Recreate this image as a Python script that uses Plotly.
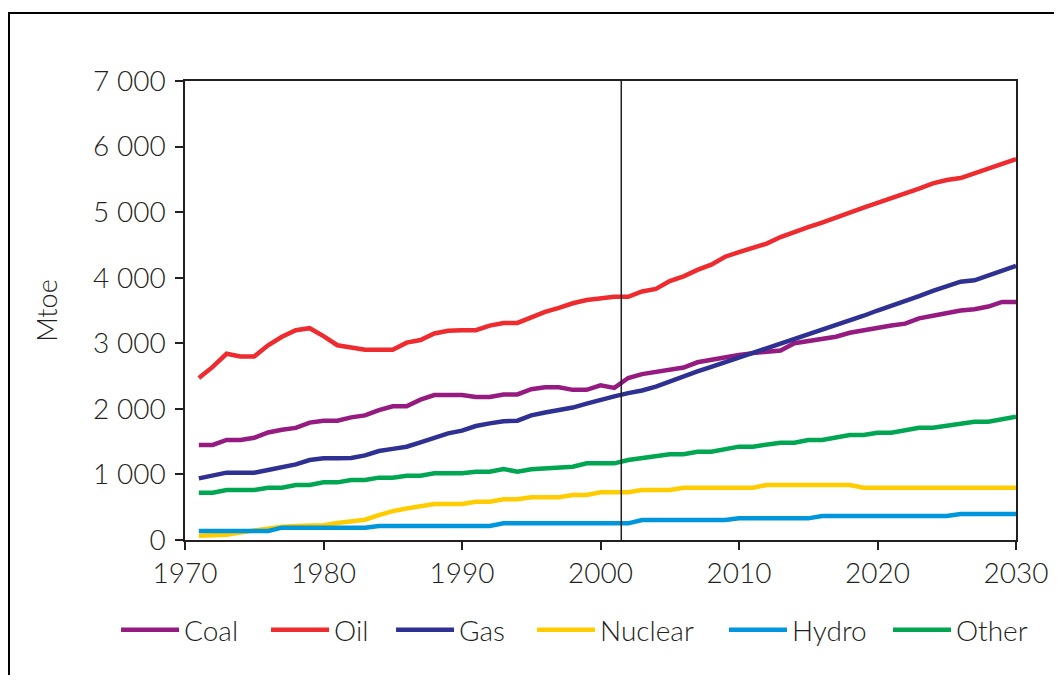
import plotly.graph_objects as go

years = list(range(1971, 2031))

coal = [1450, 1450, 1525, 1525, 1560, 1640, 1680, 1710, 1790, 1820,
        1820, 1870, 1900, 1980, 2040, 2040, 2140, 2210, 2210, 2210,
        2180, 2180, 2220, 2220, 2300, 2330, 2330, 2290, 2290, 2360,
        2320, 2470, 2530, 2560, 2600, 2630, 2710, 2750, 2790, 2820,
        2850, 2870, 2890, 3000, 3030, 3060, 3100, 3160, 3200, 3230,
        3270, 3300, 3380, 3420, 3460, 3500, 3520, 3560, 3630, 3630]

oil = [2470, 2640, 2840, 2800, 2800, 2970, 3100, 3200, 3230, 3110,
       2970, 2930, 2900, 2900, 2900, 3010, 3050, 3150, 3190, 3200,
       3200, 3270, 3310, 3310, 3400, 3480, 3540, 3610, 3660, 3690,
       3710, 3710, 3790, 3830, 3950, 4020, 4120, 4200, 4320, 4390,
       4450, 4520, 4620, 4700, 4770, 4840, 4920, 5000, 5070, 5140,
       5210, 5290, 5360, 5440, 5490, 5520, 5590, 5670, 5740, 5810]

gas = [940, 980, 1027, 1027, 1027, 1068, 1110, 1154, 1220, 1246,
       1246, 1250, 1290, 1357, 1390, 1423, 1490, 1560, 1627, 1667,
       1738, 1779, 1810, 1820, 1900, 1945, 1980, 2020, 2080, 2140,
       2190, 2240, 2280, 2340, 2420, 2490, 2570, 2640, 2710, 2780,
       2850, 2920, 2990, 3070, 3140, 3210, 3280, 3350, 3420, 3500,
       3570, 3640, 3720, 3800, 3870, 3940, 3960, 4030, 4110, 4180]

nuclear = [66, 66, 80, 115, 150, 180, 203, 214, 214, 224,
           260, 290, 310, 380, 440, 480, 515, 549, 549, 549,
           584, 584, 620, 620, 651, 651, 651, 686, 686, 727,
           727, 727, 762, 762, 762, 798, 798, 798, 798, 798,
           798, 839, 839, 839, 839, 839, 839, 839, 798, 798,
           798, 798, 798, 798, 798, 798, 798, 798, 798, 798]

hydro = [137, 137, 137, 137, 137, 137, 188, 188, 188, 188,
         188, 188, 188, 214, 214, 214, 214, 214, 214, 214,
         214, 214, 254, 254, 254, 254, 254, 254, 254, 254,
         254, 254, 305, 305, 305, 305, 305, 305, 305, 330,
         330, 330, 330, 330, 330, 366, 366, 366, 366, 366,
         366, 366, 366, 366, 366, 397, 397, 397, 397, 397]

other = [720, 720, 762, 762, 762, 798, 798, 839, 839, 879,
         879, 915, 915, 951, 951, 981, 981, 1017, 1017, 1017,
         1042, 1042, 1083, 1042, 1078, 1090, 1118, 1118, 1169, 1169,
         1169, 1220, 1250, 1280, 1307, 1307, 1347, 1347, 1390, 1424,
         1424, 1460, 1484, 1484, 1525, 1525, 1560, 1601, 1601, 1637,
         1637, 1680, 1713, 1713, 1740, 1770, 1804, 1804, 1840, 1880]

series_names = ["Coal", "Oil", "Gas", "Nuclear", "Hydro", "Other"]
series_values = [coal, oil, gas, nuclear, hydro, other]
series_colors = ["#951B81", "#EE2B2E", "#2E3192", "#FFCC00", "#0096DB", "#00A651"]

x_ticks = [1970, 1980, 1990, 2000, 2010, 2020, 2030]
y_ticks = [0, 1000, 2000, 3000, 4000, 5000, 6000, 7000]
y_tick_labels = ["0", "1 000", "2 000", "3 000", "4 000", "5 000", "6 000", "7 000"]
projection_start = 2001.5

# legend placement (container x of each legend box)
legend_x = [0.1033, 0.2467, 0.3662, 0.5010, 0.6845, 0.8413]

fig = go.Figure()
for i, (name, vals, col) in enumerate(zip(series_names, series_values, series_colors)):
    lg = "legend" if i == 0 else f"legend{i+1}"
    fig.add_trace(go.Scatter(x=years, y=vals, name=name, mode="lines",
                             line=dict(color=col, width=4.5), legend=lg))

fig.add_shape(type="line", xref="x", yref="y", x0=projection_start, x1=projection_start,
              y0=0, y1=7000, line=dict(color="#231F20", width=1.5))

# outer frame
fig.add_shape(type="rect", xref="paper", yref="paper",
              x0=-0.2118, x1=1.3, y0=-0.6, y1=1.148,
              line=dict(color="#000000", width=2))

axis_col = "#231F20"
font_fam = "Lato"
legend_common = dict(orientation="h", xref="container", yref="container",
                     y=0.0675, xanchor="left", yanchor="middle",
                     font=dict(size=28, family=font_fam, weight=300), itemwidth=58,
                     bgcolor="rgba(0,0,0,0)")
layout_legends = {}
for i, lx in enumerate(legend_x):
    key = "legend" if i == 0 else f"legend{i+1}"
    layout_legends[key] = dict(legend_common, x=lx)

fig.update_layout(
    width=1046, height=667,
    margin=dict(l=177, r=38, t=73, b=135),
    paper_bgcolor="white", plot_bgcolor="white",
    font=dict(family=font_fam, size=28, color="#231F20", weight=300),
    showlegend=True,
    xaxis=dict(range=[1970, 2030], tickmode="array", tickvals=x_ticks,
               showgrid=False, zeroline=False, showline=True, linecolor=axis_col,
               linewidth=1.5, mirror=True, ticks="outside", ticklen=8,
               tickcolor=axis_col, tickwidth=1.5, automargin=False,
               tickfont=dict(size=28, family=font_fam, weight=300)),
    yaxis=dict(range=[0, 7000], tickmode="array", tickvals=y_ticks, ticktext=y_tick_labels,
               showgrid=False, zeroline=False, showline=True, linecolor=axis_col,
               linewidth=1.5, mirror=True, ticks="outside", ticklen=8,
               tickcolor=axis_col, tickwidth=1.5, automargin=False,
               ticklabelstandoff=4,
               tickfont=dict(size=28, family=font_fam, weight=300),
               title=dict(text="Mtoe", font=dict(size=27, family=font_fam, weight=300),
                          standoff=28)),
    **layout_legends,
)

fig.write_html("out.html")
